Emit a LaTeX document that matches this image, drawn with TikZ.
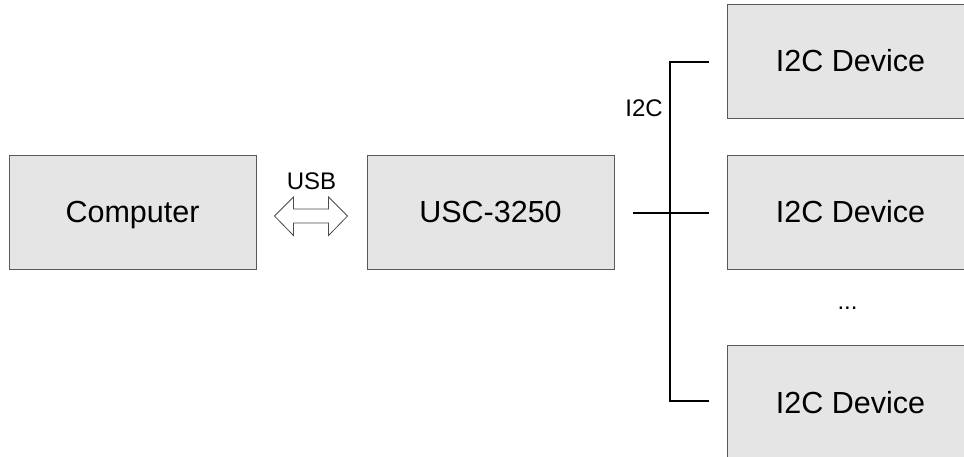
\documentclass[tikz,border=0pt]{standalone}
\usepackage{fontspec}
\setmainfont{Liberation Sans}
\usetikzlibrary{calc}
\begin{document}
\begin{tikzpicture}[x=1pt,y=-1pt,
  box/.style={draw=black!65, fill=black!10, line width=0.9pt,
    minimum width=247pt, minimum height=114pt, inner sep=0pt,
    text height=22pt, text depth=0pt,
    font=\fontsize{30.5}{36}\selectfont},
  lbl/.style={font=\fontsize{24}{28}\selectfont, inner sep=0pt},
  bus/.style={line width=1.3pt, draw=black},
  hollow/.style={draw=black!70, fill=white, line width=0.8pt, line join=miter}]
\useasboundingbox (0,0) rectangle (964,457);
\clip (0,0) rectangle (964,457);
% boxes
\node[box] (comp) at (132.5,212) {Computer};
\node[box] (usc)  at (490.5,212) {USC-3250};
\node[box] (dev1) at (850.5,61)  {I2C Device};
\node[box] (dev2) at (850.5,212) {I2C Device};
\node[box] (dev3) at (850.5,402) {I2C Device};
\node[lbl, anchor=base] (dots) at (847.5,309) {...};
% labels
\node[lbl, anchor=base] (usb) at (311.5,190) {USB};
\node[lbl, anchor=base east] (i2c) at (663,117) {I2C};
% USB double arrow
\coordinate (al) at ($(comp.east)+(18,4)$);
\coordinate (ar) at ($(usc.west)+(-19,4)$);
\path[hollow] (al) -- ++(19,-19) -- ++(0,12) -- ($(ar)+(-19,-7)$) -- ++(0,-12)
  -- (ar) -- ++(-19,19.5) -- ++(0,-12.5) -- ($(al)+(19,7)$) -- ++(0,12.5) -- cycle;
% I2C bus
\coordinate (busx) at (670,0);
\draw[bus] ($(dev1.west)+(-18,1)$) -- ($(busx |- dev1.west)+(0,1)$)
  -- ($(busx |- dev3.west)+(0,-1)$) -- ($(dev3.west)+(-18,-1)$);
\draw[bus] ($(usc.east)+(19,1)$) -- ($(dev2.west)+(-18,1)$);
\end{tikzpicture}
\end{document}
